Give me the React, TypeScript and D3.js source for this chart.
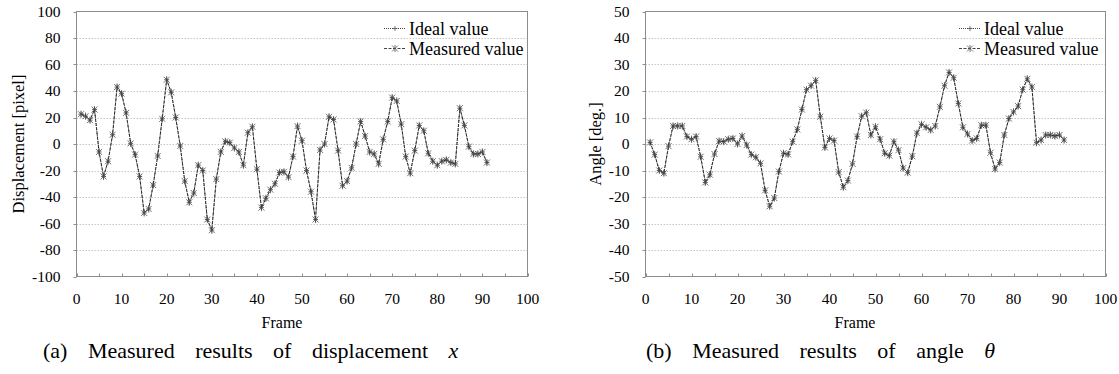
import * as d3 from 'd3';
import React, { useRef, useEffect } from 'react';

// values, frames 1..91
const displacement = [
  22.5, 21, 18, 26, -6, -24.5, -13, 7, 43, 38,
  23.5, 0.5, -8, -24.5, -52, -49, -31, -9, 19, 48.5,
  39, 20, -1.5, -28, -44, -37, -16, -20, -57, -65,
  -26.5, -6, 2, 1, -3, -6, -16, 8.5, 13, -19,
  -48, -41, -34.5, -30, -21.5, -21, -25, -9.5, 13.5, 2.5,
  -20, -36, -57, -4.5, 0, 20.5, 18.5, -5, -31.5, -28,
  -18, 0, 17, 6, -6, -7.5, -15, 3.5, 17, 35,
  32.5, 15, -9.5, -22, -5, 14, 10, -7, -13, -16,
  -13, -12, -14, -15, 27, 14, -2, -7.5, -7.5, -6,
  -14
];
const angle = [
  0.6, -4, -10, -11, -0.8, 6.8, 6.8, 6.8, 2.8, 1.8,
  2.8, -4.8, -14.5, -11.6, -3.8, 1.1, 0.9, 1.8, 2.1, 0,
  3, -0.4, -4, -5, -7.3, -17.5, -23.5, -20.4, -10.4, -3.5,
  -3.9, 0.9, 5.5, 13, 20.5, 22, 24, 10.3, -1.3, 2.1,
  1.3, -10.6, -16.3, -13.8, -7.5, 2.8, 10.5, 11.8, 3.4, 6.5,
  1.8, -3.5, -4.4, 0.9, -2.3, -9.1, -10.8, -4.6, 4.1, 7.4,
  6.3, 5.3, 6.8, 14, 22, 27, 25, 15.3, 6.3, 3.8,
  1.3, 2.1, 7.1, 7.1, -3.3, -9.4, -7, 3.4, 9.6, 12.1,
  14.3, 20.5, 24.6, 21.5, 0.5, 1.5, 3.4, 3.4, 3, 3.4,
  1.5
];
// ideal and measured curves lie on top of each other in the picture
const idealDisplacement = displacement.slice();
const idealAngle = angle.slice();

const xTicks = [0, 10, 20, 30, 40, 50, 60, 70, 80, 90, 100];
const xMinorTicks = [5, 15, 25, 35, 45, 55, 65, 75, 85, 95];
const dispTicks = [-100, -80, -60, -40, -20, 0, 20, 40, 60, 80, 100];
const angleTicks = [-50, -40, -30, -20, -10, 0, 10, 20, 30, 40, 50];
const seriesNames = ['Ideal value', 'Measured value'];

const FONT = '"Liberation Serif", "Times New Roman", serif';

function drawChart(g, cfg) {
  const { x0, x1, y0, y1, yTicks, ideal, measured, yTitle, yTitleX, frameX, legendX } = cfg;
  const x = d3.scaleLinear().domain([0, 100]).range([x0, x1]);
  const y = d3.scaleLinear().domain([yTicks[0], yTicks[yTicks.length - 1]]).range([y1, y0]);

  // grid lines
  g.selectAll('.grid')
    .data(yTicks.slice(1, -1))
    .enter().append('line')
    .attr('x1', x0).attr('x2', x1)
    .attr('y1', d => Math.round(y(d)) + 0.5).attr('y2', d => Math.round(y(d)) + 0.5)
    .attr('stroke', '#b8b8b8')
    .attr('stroke-width', 0.8)
    .attr('stroke-dasharray', '1.5,1.5');

  g.append('rect')
    .attr('x', x0).attr('y', y0)
    .attr('width', x1 - x0).attr('height', y1 - y0)
    .attr('fill', 'none')
    .attr('stroke', '#8c8c8c');

  // y ticks
  g.selectAll('.ytick')
    .data(yTicks)
    .enter().append('line')
    .attr('x1', x0 - 3).attr('x2', x0)
    .attr('y1', d => Math.round(y(d)) + 0.5).attr('y2', d => Math.round(y(d)) + 0.5)
    .attr('stroke', '#8c8c8c');
  g.selectAll('.ylabel')
    .data(yTicks)
    .enter().append('text')
    .attr('x', x0 - 16)
    .attr('y', d => y(d))
    .attr('dy', '0.35em')
    .attr('text-anchor', 'end')
    .attr('font-size', 15.5)
    .text(d => d);

  // x ticks
  g.selectAll('.xtick')
    .data(xTicks.concat(xMinorTicks))
    .enter().append('line')
    .attr('x1', d => Math.round(x(d)) + 0.5).attr('x2', d => Math.round(x(d)) + 0.5)
    .attr('y1', y1 - 3).attr('y2', y1)
    .attr('stroke', '#8c8c8c');
  g.selectAll('.xlabel')
    .data(xTicks)
    .enter().append('text')
    .attr('x', d => x(d))
    .attr('y', y1 + 22)
    .attr('dy', '0.35em')
    .attr('text-anchor', 'middle')
    .attr('font-size', 15.5)
    .text(d => d);

  g.append('text')
    .attr('x', frameX).attr('y', y1 + 51)
    .attr('text-anchor', 'middle')
    .attr('font-size', 16)
    .text('Frame');

  g.append('text')
    .attr('transform', `translate(${yTitleX},${(y0 + y1) / 2}) rotate(-90)`)
    .attr('dy', '0.35em')
    .attr('text-anchor', 'middle')
    .attr('font-size', 16.5)
    .text(yTitle);

  const line = d3.line()
    .x((d, i) => x(i + 1))
    .y(d => y(d));

  const plus = 'M-2.5,0H2.5M0,-2.5V2.5';
  const star = 'M-3,-3L3,3M-3,3L3,-3M0,-3.6V3.6';

  const drawSeries = (vals, dash, color, marker, mColor) => {
    g.append('path')
      .attr('d', line(vals))
      .attr('fill', 'none')
      .attr('stroke', color)
      .attr('stroke-width', 1)
      .attr('stroke-dasharray', dash);
    g.selectAll(null)
      .data(vals)
      .enter().append('path')
      .attr('transform', (d, i) => `translate(${x(i + 1)},${y(d)})`)
      .attr('d', marker)
      .attr('fill', 'none')
      .attr('stroke', mColor)
      .attr('stroke-width', 0.8);
  };
  drawSeries(ideal, '1,1', '#444', plus, '#333');
  drawSeries(measured, '3,1.5', '#2a2a2a', star, '#4a4a4a');

  // legend
  const rows = [
    { name: seriesNames[0], dash: '1,1', marker: plus, y: 28.5 },
    { name: seriesNames[1], dash: '3,1.5', marker: star, y: 48.5 }
  ];
  rows.forEach(r => {
    g.append('line')
      .attr('x1', legendX).attr('x2', legendX + 22)
      .attr('y1', r.y).attr('y2', r.y)
      .attr('stroke', '#444')
      .attr('stroke-dasharray', r.dash);
    g.append('path')
      .attr('transform', `translate(${legendX + 11},${r.y})`)
      .attr('d', r.marker)
      .attr('fill', 'none')
      .attr('stroke', '#555')
      .attr('stroke-width', 0.8);
    g.append('text')
      .attr('x', legendX + 25).attr('y', r.y)
      .attr('dy', '0.35em')
      .attr('font-size', 18)
      .text(r.name);
  });
}

export default function App() {
  const ref = useRef(null);

  useEffect(() => {
    const svg = d3.select(ref.current);
    svg.selectAll('*').remove();
    svg.style('font-family', FONT).attr('fill', '#000');

    drawChart(svg.append('g'), {
      x0: 76.5, x1: 527.5, y0: 11.5, y1: 276.5,
      yTicks: dispTicks, ideal: idealDisplacement, measured: displacement,
      yTitle: 'Displacement [pixel]', yTitleX: 18, frameX: 282, legendX: 384
    });
    drawChart(svg.append('g'), {
      x0: 645.5, x1: 1105.5, y0: 11.5, y1: 276.5,
      yTicks: angleTicks, ideal: idealAngle, measured: angle,
      yTitle: 'Angle [deg.]', yTitleX: 595, frameX: 855, legendX: 959
    });

    // captions
    const capA = svg.append('text')
      .attr('x', 43).attr('y', 358)
      .attr('font-size', 22)
      .style('word-spacing', '15px');
    capA.append('tspan').text('(a) Measured results of displacement ');
    capA.append('tspan').attr('font-style', 'italic').text('x');

    const capB = svg.append('text')
      .attr('x', 646).attr('y', 358)
      .attr('font-size', 22)
      .style('word-spacing', '15px');
    capB.append('tspan').text('(b) Measured results of angle ');
    capB.append('tspan').attr('font-style', 'italic').text('θ');
  }, []);

  return (
    <div style={{ position: 'absolute', left: 0, top: 0 }}>
      <svg ref={ref} width={1119} height={374} style={{ display: 'block', background: '#fff' }} />
    </div>
  );
}
